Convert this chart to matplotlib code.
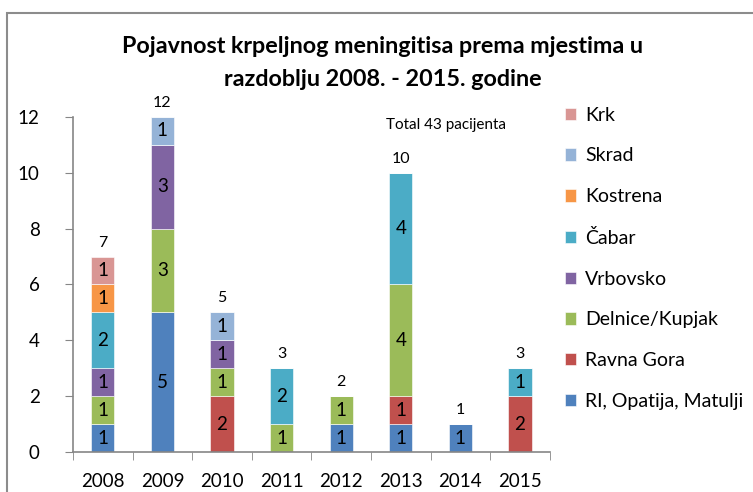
import numpy as np
import matplotlib
matplotlib.use('Agg')
import matplotlib.pyplot as plt
from matplotlib.patches import Rectangle

plt.rcParams['font.family'] = ['Lato', 'DejaVu Sans']

years = ['2008', '2009', '2010', '2011', '2012', '2013', '2014', '2015']
series_names = ['RI, Opatija, Matulji', 'Ravna Gora', 'Delnice/Kupjak', 'Vrbovsko',
                'Čabar', 'Kostrena', 'Skrad', 'Krk']
ri_opatija = [1, 5, 0, 0, 1, 1, 1, 0]
ravna_gora = [0, 0, 2, 0, 0, 1, 0, 2]
delnice = [1, 3, 1, 1, 1, 4, 0, 0]
vrbovsko = [1, 3, 1, 0, 0, 0, 0, 0]
cabar = [2, 0, 0, 2, 0, 4, 0, 1]
kostrena = [1, 0, 0, 0, 0, 0, 0, 0]
skrad = [0, 1, 1, 0, 0, 0, 0, 0]
krk = [1, 0, 0, 0, 0, 0, 0, 0]
colors = ['#4F81BD', '#C0504D', '#9BBB59', '#8064A2', '#4BACC6', '#F79646', '#95B3D7', '#D99694']

title = 'Pojavnost krpeljnog meningitisa prema mjestima u\nrazdoblju 2008. - 2015. godine'
note = 'Total 43 pacijenta'

data = np.array([ri_opatija, ravna_gora, delnice, vrbovsko, cabar, kostrena, skrad, krk])

fig = plt.figure(figsize=(7.53, 4.92), dpi=100)
ax = fig.add_axes([0.097, 0.0813, 0.633, 0.681])

x = np.arange(len(years))
bottom = np.zeros(len(years))
handles = []
for vals, name, col in zip(data, series_names, colors):
    bars = ax.bar(x, vals, 0.39, bottom=bottom, color=col, edgecolor='white',
                  linewidth=0.4, label=name)
    handles.append(bars)
    # segment values
    for xi, v, b in zip(x, vals, bottom):
        if v > 0:
            ax.text(xi, b + v / 2, str(v), ha='center', va='center', fontsize=13.5, color='black')
    bottom = bottom + vals

# yearly totals above bars
for xi, tot in zip(x, bottom):
    ax.text(xi, tot + 0.25, str(int(tot)), ha='center', va='bottom', fontsize=11.5)

ax.text(5.76, 11.7, note, ha='center', va='center', fontsize=11)

ax.set_xlim(-0.5, len(years) - 0.5)
ax.set_ylim(0, 12)
ax.set_yticks(range(0, 13, 2))
ax.set_xticks(x)
ax.set_xticklabels(years)
ax.set_xticks(np.arange(-0.5, len(years), 1), minor=True)
ax.tick_params(axis='x', which='major', length=0, labelsize=13.5, pad=15)
ax.tick_params(axis='x', which='minor', length=6, color='#868686', direction='out')
ax.tick_params(axis='y', length=6, color='#868686', labelsize=13.5, pad=18)
for s in ['top', 'right']:
    ax.spines[s].set_visible(False)
for s in ['left', 'bottom']:
    ax.spines[s].set_color('#868686')
    ax.spines[s].set_linewidth(1.2)

fig.text(0.508, 0.872, title, ha='center', va='center', fontsize=16.8,
         fontweight='bold', linespacing=1.68)

fig.legend(handles[::-1], series_names[::-1], loc='upper left',
           bbox_to_anchor=(0.75, 0.783), frameon=False, fontsize=14,
           handlelength=0.6, handleheight=0.6, handletextpad=0.45,
           labelspacing=1.22, borderpad=0, borderaxespad=0)

# outer chart frame, partly cropped at right and bottom
fig.add_artist(Rectangle((7 / 753, -0.2), 1.2, 0.2 + 1 - 13 / 492, transform=fig.transFigure,
                         fill=False, edgecolor='#8c8c8c', linewidth=1.5))

fig.savefig('out.png', dpi=100)
